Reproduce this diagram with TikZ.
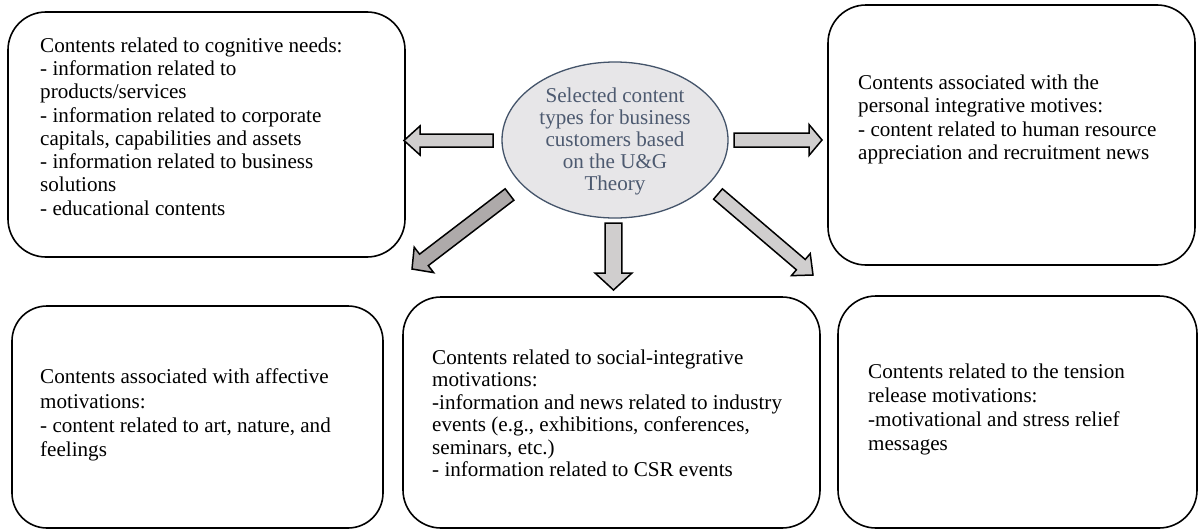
\documentclass[tikz,border=0pt]{standalone}
\usepackage{fontspec}
\setmainfont{Liberation Serif}
\usetikzlibrary{shapes.geometric,calc}
\definecolor{arrowfill}{HTML}{D0CECE}
\definecolor{arrowdark}{HTML}{AEAAAA}
\definecolor{ellfill}{HTML}{E7E6E8}
\definecolor{ellline}{HTML}{44546A}
\definecolor{elltext}{HTML}{4D5A70}
\tikzset{
  box/.style={draw=black, line width=1.6pt, rounded corners=38pt, inner sep=0pt, minimum width=#1},
  txt/.style={anchor=west, align=left, inner sep=0pt, font=\fontsize{21.1}{24.3}\selectfont},
  blockarrow/.style={draw=black, line width=1.5pt, line join=miter},
}
% \barrow{tail}{tip}{half shaft}{half head}{head length}{fill}
\newcommand{\barrow}[6]{%
  \coordinate (#1-#2-b) at ($(#2)!#5!(#1)$);
  \draw[blockarrow, fill=#6]
    ($(#1)!#3!90:(#2)$) -- ($(#1-#2-b)!#3!90:(#2)$) -- ($(#1-#2-b)!#4!90:(#2)$) --
    (#2) --
    ($(#1-#2-b)!#4!-90:(#2)$) -- ($(#1-#2-b)!#3!-90:(#2)$) -- ($(#1)!#3!-90:(#2)$) -- cycle;
}
\begin{document}
\begin{tikzpicture}[x=1pt,y=-1pt]
\useasboundingbox (0,0) rectangle (1198,530);
% boxes
\node[box=397pt, minimum height=245pt] (tl) at (206.5,134.5) {};
\node[box=367pt, minimum height=260pt] (tr) at (1011.5,135) {};
\node[box=371pt, minimum height=222pt, rounded corners=35pt] (bl) at (197.5,417) {};
\node[box=417pt, minimum height=231pt] (bm) at (611.5,412.5) {};
\node[box=359pt, minimum height=232pt] (br) at (1017.5,412) {};
% texts
\node[txt, font=\fontsize{21.1}{23.3}\selectfont] (tlt) at (40,126.5) {Contents related to cognitive needs:\\- information related to\\products/services\\- information related to corporate\\capitals, capabilities and assets\\- information related to business\\solutions\\- educational contents};
\node[txt, font=\fontsize{21.1}{23.5}\selectfont] (trt) at (858,119.6) {Contents associated with the\\personal integrative motives:\\- content related to human resource\\appreciation and recruitment news};
\node[txt] (blt) at (40,415) {Contents associated with affective\\motivations:\\- content related to art, nature, and\\feelings};
\node[txt, font=\fontsize{21.1}{22.5}\selectfont] (bmt) at (432,413.5) {Contents related to social-integrative\\motivations:\\-information and news related to industry\\events (e.g., exhibitions, conferences,\\seminars, etc.)\\- information related to CSR events};
\node[txt, font=\fontsize{21.1}{23.8}\selectfont] (brt) at (868,409.6) {Contents related to the tension\\release motivations:\\-motivational and stress relief\\messages};
% centre ellipse
\node[ellipse, draw=ellline, line width=1.3pt, fill=ellfill, minimum width=226pt, minimum height=156pt, inner sep=0pt] (c) at (615,140) {};
\node[align=center, inner sep=0pt, text=elltext, font=\fontsize{21.1}{22}\selectfont] (ct) at (615,141) {Selected content\\types for business\\customers based\\on the U\&G\\Theory};
% arrows
\coordinate (aLt) at (493,140.5); \coordinate (aLp) at (404,140.5);
\coordinate (aRt) at (734,140); \coordinate (aRp) at (822,140);
\coordinate (aDLt) at (509.5,194.5); \coordinate (aDLp) at (412,269);
\coordinate (aDt) at (613.5,223); \coordinate (aDp) at (613.5,290);
\coordinate (aDRt) at (718,194); \coordinate (aDRp) at (813,275);
\barrow{aLt}{aLp}{6.5pt}{14.5pt}{16pt}{arrowfill}
\barrow{aRt}{aRp}{7pt}{15.5pt}{13pt}{arrowfill}
\barrow{aDLt}{aDLp}{7.2pt}{16pt}{15pt}{arrowdark}
\barrow{aDt}{aDp}{8.3pt}{18.5pt}{17pt}{arrowfill}
\barrow{aDRt}{aDRp}{6.8pt}{14.5pt}{16pt}{arrowfill}
\end{tikzpicture}
\end{document}
